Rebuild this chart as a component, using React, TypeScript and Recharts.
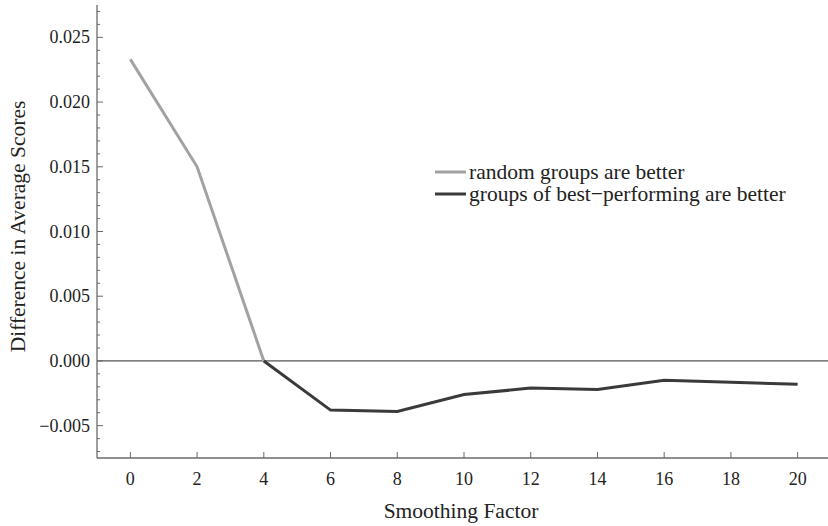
import React from "react";
import { LineChart, Line, XAxis, YAxis, ReferenceLine, Legend } from "recharts";

const xValues = [0, 2, 4, 6, 8, 10, 12, 14, 16, 18, 20];
const randomBetter = [0.0233, 0.015, 0.0, null, null, null, null, null, null, null, null];
const bestBetter = [null, null, 0.0, -0.0038, -0.0039, -0.0026, -0.0021, -0.0022, -0.0015, -0.00165, -0.0018];

const xTicks = [0, 2, 4, 6, 8, 10, 12, 14, 16, 18, 20];
const yTicks = [
  -0.007, -0.006, -0.005, -0.004, -0.003, -0.002, -0.001, 0, 0.001, 0.002, 0.003, 0.004,
  0.005, 0.006, 0.007, 0.008, 0.009, 0.01, 0.011, 0.012, 0.013, 0.014, 0.015, 0.016,
  0.017, 0.018, 0.019, 0.02, 0.021, 0.022, 0.023, 0.024, 0.025, 0.026, 0.027,
];
const xDomain = [-1, 21];
const yDomain = [-0.0075, 0.0275];

const seriesNames = ["random groups are better", "groups of best\u2212performing are better"];

const data = xValues.map((x, i) => ({
  x,
  a: randomBetter[i] === null ? undefined : randomBetter[i],
  b: bestBetter[i] === null ? undefined : bestBetter[i],
}));

const FONT = "'Liberation Serif', 'Times New Roman', serif";
const FRAME = "#6a6a6a";
const TEXT = "#222";

const isMajor = (v: number) => Math.round(v * 1000) % 5 === 0;
const fmtY = (v: number) => {
  const s = Math.abs(v).toFixed(3);
  return v < -1e-9 ? "\u2212" + s : s;
};

const LeftTick = (props: any) => {
  const { x, y, payload } = props;
  const v = payload.value as number;
  const major = isMajor(v);
  return (
    <g>
      <line x1={x} x2={x + (major ? 6 : 3)} y1={y} y2={y} stroke={FRAME} strokeWidth={1} />
      {major && (
        <text x={x - 7} y={y} dy={6} textAnchor="end" fontFamily={FONT} fontSize={18} fill={TEXT}>
          {fmtY(v)}
        </text>
      )}
    </g>
  );
};

const RightTick = (props: any) => {
  const { x, y, payload } = props;
  const v = payload.value as number;
  const major = isMajor(v);
  return <line x1={x} x2={x - (major ? 6 : 3)} y1={y} y2={y} stroke={FRAME} strokeWidth={1} />;
};

const BottomTick = (props: any) => {
  const { x, y, payload } = props;
  return (
    <g>
      <line x1={x} x2={x} y1={y} y2={y - 6} stroke={FRAME} strokeWidth={1} />
      <text x={x} y={y + 27} textAnchor="middle" fontFamily={FONT} fontSize={18} fill={TEXT}>
        {payload.value}
      </text>
    </g>
  );
};

const TopTick = (props: any) => {
  const { x, y } = props;
  return <line x1={x} x2={x} y1={y} y2={y + 6} stroke={FRAME} strokeWidth={1} />;
};

const LegendContent = (props: any) => {
  const payload = props.payload || [];
  const ordered = seriesNames
    .map((n) => payload.find((p: any) => p.value === n))
    .filter(Boolean);
  return (
    <div style={{ fontFamily: FONT, fontSize: 21.5, color: TEXT }}>
      {ordered.map((p: any, i: number) => (
        <div key={i} style={{ display: "flex", alignItems: "center", height: 22, whiteSpace: "nowrap" }}>
          <svg width={32} height={22} style={{ display: "block" }}>
            <line x1={0} x2={31} y1={11} y2={11} stroke={p.color} strokeWidth={3} />
          </svg>
          <span style={{ marginLeft: 2, lineHeight: "22px" }}>{p.value}</span>
        </div>
      ))}
    </div>
  );
};

export default function App() {
  return (
    <div style={{ position: "absolute", left: 0, top: 0, width: 828, height: 526, overflow: "hidden", background: "#fff" }}>
      <LineChart width={832} height={526} data={data} margin={{ top: 5, right: 1, bottom: 0, left: 0 }}>
        <XAxis
          dataKey="x"
          type="number"
          domain={xDomain}
          ticks={xTicks}
          interval={0}
          allowDataOverflow
          height={68}
          tickSize={0}
          tickMargin={0}
          axisLine={{ stroke: FRAME, strokeWidth: 1.3 }}
          tickLine={false}
          tick={<BottomTick />}
          label={{
            content: (p: any) => {
              const vb = p.viewBox || {};
              return (
                <text x={vb.x + vb.width / 2 - 3} y={518} textAnchor="middle" fontFamily={FONT} fontSize={21.5} fill={TEXT}>
                  Smoothing Factor
                </text>
              );
            },
          }}
        />
        <XAxis
          xAxisId="top"
          orientation="top"
          dataKey="x"
          type="number"
          domain={xDomain}
          ticks={xTicks}
          interval={0}
          allowDataOverflow
          height={0}
          tickSize={0}
          tickMargin={0}
          axisLine={{ stroke: FRAME, strokeWidth: 1.3 }}
          tickLine={false}
          tick={<TopTick />}
        />
        <YAxis
          type="number"
          domain={yDomain}
          ticks={yTicks}
          interval={0}
          allowDataOverflow
          width={97}
          tickSize={0}
          tickMargin={0}
          axisLine={{ stroke: FRAME, strokeWidth: 1.3 }}
          tickLine={false}
          tick={<LeftTick />}
          label={{
            content: (p: any) => {
              const vb = p.viewBox || {};
              const cy = vb.y + vb.height / 2 - 5;
              return (
                <text
                  x={18}
                  y={cy}
                  transform={`rotate(-90, 18, ${cy})`}
                  textAnchor="middle"
                  dominantBaseline="central"
                  fontFamily={FONT}
                  fontSize={21.5}
                  fill={TEXT}
                >
                  Difference in Average Scores
                </text>
              );
            },
          }}
        />
        <YAxis
          yAxisId="right"
          orientation="right"
          type="number"
          domain={yDomain}
          ticks={yTicks}
          interval={0}
          allowDataOverflow
          width={0}
          tickSize={0}
          tickMargin={0}
          axisLine={{ stroke: FRAME, strokeWidth: 1.3 }}
          tickLine={false}
          tick={<RightTick />}
        />
        <ReferenceLine y={0} stroke="#555" strokeWidth={1.2} />
        <Legend
          layout="vertical"
          align="center"
          verticalAlign="middle"
          wrapperStyle={{ left: 435, top: 161, width: "auto" }}
          content={<LegendContent />}
        />
        <Line
          type="linear"
          dataKey="a"
          name={seriesNames[0]}
          stroke="#a2a2a2"
          strokeWidth={3}
          dot={false}
          activeDot={false}
          isAnimationActive={false}
        />
        <Line
          type="linear"
          dataKey="b"
          name={seriesNames[1]}
          stroke="#3a3a3a"
          strokeWidth={3}
          dot={false}
          activeDot={false}
          isAnimationActive={false}
        />
      </LineChart>
    </div>
  );
}
